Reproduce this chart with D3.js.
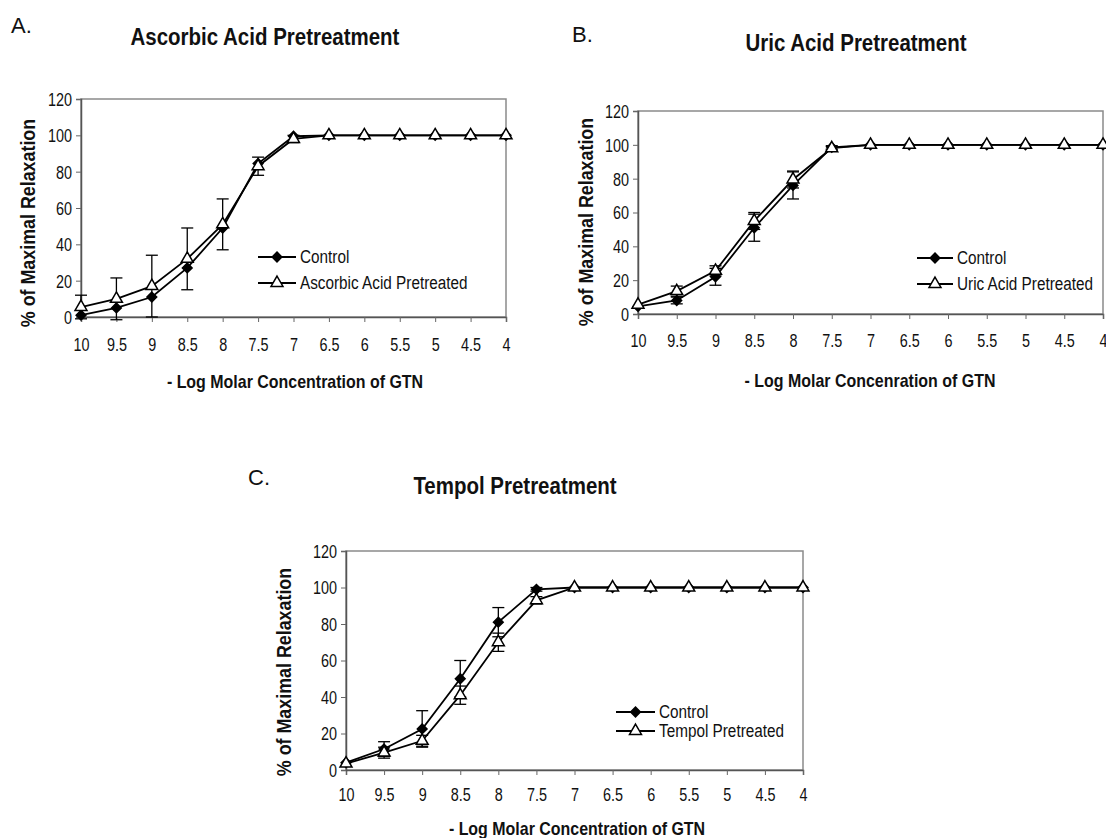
<!DOCTYPE html>
<html>
<head>
<meta charset="utf-8">
<script src="https://cdn.jsdelivr.net/npm/d3@7"></script>
<style>
  body { margin: 0; background: #fff; }
  text { font-family: "Liberation Sans", Arial, sans-serif; fill: #111; }
  .panel-title { font-weight: bold; font-size: 23px; }
  .panel-letter { font-size: 22px; }
  .axis-title { font-weight: bold; }
  .tick-label { font-size: 18px; }
  .legend-label { font-size: 18px; }
</style>
</head>
<body>
<div id="svg-container"></div>
<script>
////////////////////////////  Data  ///////////////////////////////
const concLabels = ["10", "9.5", "9", "8.5", "8", "7.5", "7", "6.5", "6", "5.5", "5", "4.5", "4"];
const yTicks = [0, 20, 40, 60, 80, 100, 120];

// A. ascorbic acid
const ascControl = [1, 5, 11, 27, 49, 84.5, 99.5, 100, 100, 100, 100, 100, 100];
const ascControlErr = [0, 0, 0, 0, 0, 0, 0, 0, 0, 0, 0, 0, 0];
const ascPretreated = [5.5, 10, 17, 32, 51, 83, 98, 100, 100, 100, 100, 100, 100];
const ascPretreatedErr = [6.5, 11.5, 17, 17, 14, 5, 2, 0, 0, 0, 0, 0, 0];

// B. uric acid
const uricControl = [4.5, 8, 22, 51, 76, 98.5, 100, 100, 100, 100, 100, 100, 100];
const uricControlErr = [0, 2, 5, 8, 8, 1, 0, 0, 0, 0, 0, 0, 0];
const uricPretreated = [5.5, 13.5, 25.5, 55, 79.5, 98, 100, 100, 100, 100, 100, 100, 100];
const uricPretreatedErr = [0, 3, 3, 5, 5, 1, 0, 0, 0, 0, 0, 0, 0];

// C. tempol
const tempolControl = [4, 11.5, 22.5, 50, 81, 99, 100, 100, 100, 100, 100, 100, 100];
const tempolControlErr = [0, 4, 10, 10, 8, 1, 0, 0, 0, 0, 0, 0, 0];
const tempolPretreated = [3.5, 9.5, 16, 41, 70, 93, 100, 100, 100, 100, 100, 100, 100];
const tempolPretreatedErr = [0, 3, 3, 5, 5, 2, 0, 0, 0, 0, 0, 0, 0];

////////////////////////////  Init  ///////////////////////////////
const width = 1106;
const height = 838;
const svg = d3.select("#svg-container").append("svg")
  .attr("width", width)
  .attr("height", height);

// the original figure uses a narrow font, squeeze Liberation Sans to match
const condense = (sel, k) => {
  sel.each(function () {
    const w = this.getComputedTextLength();
    d3.select(this).attr("textLength", w * k).attr("lengthAdjust", "spacingAndGlyphs");
  });
};

// panel layouts (pixel boxes), series come from the arrays above
const panels = [
  {
    letter: "A.", letterX: 11, letterY: 33, title: "Ascorbic Acid Pretreatment", titleX: 265, titleY: 45,
    box: { left: 81, right: 506, top: 99, bottom: 317 }, tickPad: 16,
    yTitleX: 27, yTitleY: 223, xTitle: "- Log Molar Concentration of GTN", xTitleX: 295, xTitleY: 388,
    legend: { x1: 258, x2: 296, y: 257, dy: 26 },
    control: ascControl, controlErr: ascControlErr,
    treated: ascPretreated, treatedErr: ascPretreatedErr, treatedName: "Ascorbic Acid Pretreated"
  },
  {
    letter: "B.", letterX: 572, letterY: 42, title: "Uric Acid Pretreatment", titleX: 856, titleY: 51,
    box: { left: 638, right: 1103, top: 111, bottom: 314 }, tickPad: 15,
    yTitleX: 585, yTitleY: 222, xTitle: "- Log Molar Concenration of GTN", xTitleX: 870, xTitleY: 387,
    legend: { x1: 917, x2: 953, y: 258, dy: 26 },
    control: uricControl, controlErr: uricControlErr,
    treated: uricPretreated, treatedErr: uricPretreatedErr, treatedName: "Uric Acid Pretreated"
  },
  {
    letter: "C.", letterX: 248, letterY: 485, title: "Tempol Pretreatment", titleX: 515, titleY: 494,
    box: { left: 346, right: 803, top: 551, bottom: 770 }, tickPad: 13,
    yTitleX: 283, yTitleY: 672, xTitle: "- Log Molar Concentration of GTN", xTitleX: 577, xTitleY: 835,
    legend: { x1: 616, x2: 655, y: 712, dy: 19 },
    control: tempolControl, controlErr: tempolControlErr,
    treated: tempolPretreated, treatedErr: tempolPretreatedErr, treatedName: "Tempol Pretreated"
  }
];

const diamond = d3.symbol().type(d3.symbolDiamond2).size(60);
const triangle = d3.symbol().type(d3.symbolTriangle).size(62);

////////////////////////////  Draw  ///////////////////////////////
panels.forEach((p) => {
  const g = svg.append("g");
  const b = p.box;

  // scales
  const x = d3.scalePoint().domain(concLabels).range([b.left, b.right]);
  const y = d3.scaleLinear().domain([0, 120]).range([b.bottom, b.top]);

  // titles
  g.append("text").attr("class", "panel-letter")
    .attr("x", p.letterX).attr("y", p.letterY).text(p.letter);
  g.append("text").attr("class", "panel-title")
    .attr("x", p.titleX).attr("y", p.titleY)
    .attr("text-anchor", "middle").text(p.title)
    .call(condense, 0.89);

  // plot frame
  g.append("rect")
    .attr("x", b.left).attr("y", b.top)
    .attr("width", b.right - b.left).attr("height", b.bottom - b.top)
    .attr("fill", "none").attr("stroke", "#8a8a8a").attr("stroke-width", 1.5);

  // axes
  const xAxis = g.append("g")
    .attr("transform", `translate(0,${b.bottom})`)
    .call(d3.axisBottom(x).tickSize(5).tickPadding(p.tickPad));
  const yAxis = g.append("g")
    .attr("transform", `translate(${b.left},0)`)
    .call(d3.axisLeft(y).tickValues(yTicks).tickSize(5).tickPadding(4));
  [xAxis, yAxis].forEach((ax) => {
    ax.attr("font-family", null).attr("font-size", null);
    ax.select(".domain").attr("stroke", "#555").attr("stroke-width", 1.5);
    ax.selectAll(".tick line").attr("stroke", "#666").attr("stroke-width", 1);
    ax.selectAll(".tick text").attr("class", "tick-label").attr("fill", "#111")
      .call(condense, 0.8);
  });
  yAxis.selectAll(".tick text").attr("dy", "0.36em");

  // axis titles
  g.append("text").attr("class", "axis-title")
    .attr("transform", `translate(${p.yTitleX},${p.yTitleY}) rotate(-90)`)
    .attr("text-anchor", "middle").attr("dy", "0.36em")
    .style("font-size", "21px")
    .text("% of Maximal Relaxation")
    .call(condense, 0.85);
  g.append("text").attr("class", "axis-title")
    .attr("x", p.xTitleX).attr("y", p.xTitleY)
    .attr("text-anchor", "middle")
    .style("font-size", "19px")
    .text(p.xTitle)
    .call(condense, 0.84);

  const series = [
    { values: p.control, err: p.controlErr, symbol: diamond, fill: "#000" },
    { values: p.treated, err: p.treatedErr, symbol: triangle, fill: "#fff" }
  ];

  const line = d3.line()
    .x((d, i) => x(concLabels[i]))
    .y((d) => y(d));

  series.forEach((s) => {
    // error bars
    const eb = g.selectAll(null)
      .data(s.values.map((v, i) => ({ v, e: s.err[i], c: concLabels[i] })).filter((d) => d.e > 0))
      .enter()
      .append("g")
      .attr("stroke", "#000")
      .attr("stroke-width", 1.3);
    eb.append("line")
      .attr("x1", (d) => x(d.c)).attr("x2", (d) => x(d.c))
      .attr("y1", (d) => y(d.v - d.e)).attr("y2", (d) => y(d.v + d.e));
    eb.append("line")
      .attr("x1", (d) => x(d.c) - 6).attr("x2", (d) => x(d.c) + 6)
      .attr("y1", (d) => y(d.v + d.e)).attr("y2", (d) => y(d.v + d.e));
    eb.append("line")
      .attr("x1", (d) => x(d.c) - 6).attr("x2", (d) => x(d.c) + 6)
      .attr("y1", (d) => y(d.v - d.e)).attr("y2", (d) => y(d.v - d.e));

    g.append("path")
      .datum(s.values)
      .attr("d", line)
      .attr("fill", "none")
      .attr("stroke", "#000")
      .attr("stroke-width", 1.8);
  });

  series.forEach((s) => {
    g.selectAll(null)
      .data(s.values)
      .enter()
      .append("path")
      .attr("d", s.symbol)
      .attr("transform", (d, i) => `translate(${x(concLabels[i])},${y(d)})`)
      .attr("fill", s.fill)
      .attr("stroke", "#000")
      .attr("stroke-width", 1.5);
  });

  // legend
  const lg = p.legend;
  const legendItems = [
    { name: "Control", symbol: diamond, fill: "#000" },
    { name: p.treatedName, symbol: triangle, fill: "#fff" }
  ];
  const li = g.selectAll(null)
    .data(legendItems)
    .enter()
    .append("g")
    .attr("transform", (d, i) => `translate(0,${lg.y + i * lg.dy})`);
  li.append("line")
    .attr("x1", lg.x1).attr("x2", lg.x2)
    .attr("stroke", "#000").attr("stroke-width", 1.8);
  li.append("path")
    .attr("d", (d) => d.symbol())
    .attr("transform", `translate(${(lg.x1 + lg.x2) / 2},0)`)
    .attr("fill", (d) => d.fill)
    .attr("stroke", "#000").attr("stroke-width", 1.5);
  li.append("text").attr("class", "legend-label")
    .attr("x", lg.x2 + 4).attr("dy", "0.36em")
    .text((d) => d.name)
    .call(condense, 0.85);
});
</script>
</body>
</html>
